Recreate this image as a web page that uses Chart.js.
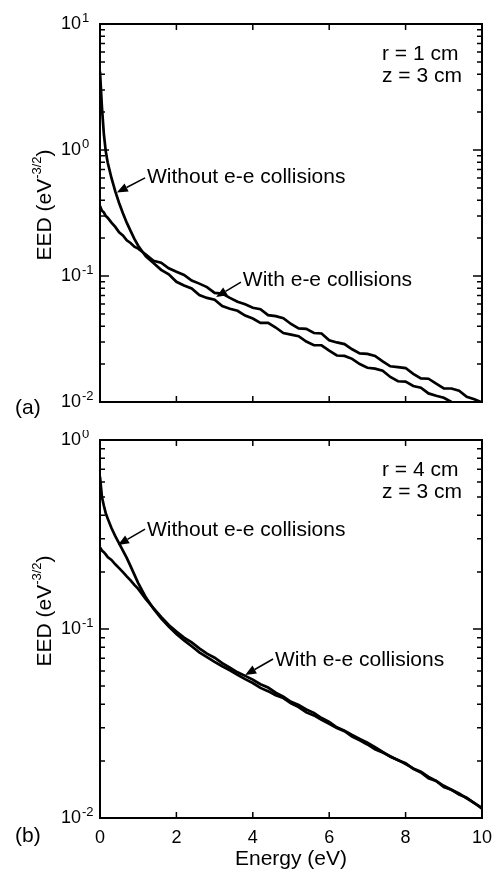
<!DOCTYPE html>
<html>
<head>
<meta charset="utf-8">
<script src="https://cdn.jsdelivr.net/npm/chart.js@4.4.1/dist/chart.umd.min.js"></script>
<style>
  html, body { margin: 0; padding: 0; background: #fff; }
  #wrap { position: relative; width: 495px; height: 869px; overflow: hidden; }
  canvas { position: absolute; left: 0; }
  #chartA { top: 0; }
  #chartB { top: 430px; }
</style>
</head>
<body>
<div id="wrap">
  <canvas id="chartA" width="495" height="430"></canvas>
  <canvas id="chartB" width="495" height="439"></canvas>
</div>
<script>
// 1. Daten
const energy = [0, 0.05, 0.1, 0.15, 0.2, 0.3, 0.4, 0.5, 0.6, 0.7, 0.8, 0.9, 1.0,
  1.2, 1.4, 1.6, 1.8, 2.0, 2.2, 2.4, 2.6, 2.8, 3.0, 3.2, 3.4, 3.6, 3.8, 4.0,
  4.2, 4.4, 4.6, 4.8, 5.0, 5.2, 5.4, 5.6, 5.8, 6.0, 6.2, 6.4, 6.6, 6.8, 7.0,
  7.2, 7.4, 7.6, 7.8, 8.0, 8.2, 8.4, 8.6, 8.8, 9.0, 9.2, 9.4, 9.6, 9.8, 10.0];

// (a) r = 1 cm
const withoutA = [4.2, 2.2, 1.35, 0.98, 0.8, 0.6, 0.47, 0.38, 0.315, 0.265, 0.228, 0.197, 0.174,
  0.143, 0.127, 0.112, 0.103, 0.09, 0.084, 0.0796, 0.0706, 0.067, 0.0649, 0.0578, 0.055, 0.053, 0.0485, 0.046,
  0.0425, 0.0425, 0.039, 0.0353, 0.0343, 0.0333, 0.0302, 0.0282, 0.0282, 0.0256, 0.0234, 0.0232, 0.022, 0.02, 0.0187,
  0.0184, 0.0177, 0.0158, 0.0146, 0.0145, 0.0134, 0.013, 0.0117, 0.0112, 0.0108, 0.01, 0.0094, 0.0089, 0.0084, 0.0079];
const withA = [0.36, 0.33, 0.32, 0.30, 0.29, 0.265, 0.245, 0.222, 0.21, 0.192, 0.183, 0.171, 0.165,
  0.148, 0.132, 0.1275, 0.115, 0.108, 0.102, 0.092, 0.087, 0.0816, 0.0735, 0.0724, 0.067, 0.0624, 0.0596, 0.056,
  0.0545, 0.0489, 0.048, 0.0463, 0.0416, 0.0384, 0.0381, 0.0353, 0.035, 0.0309, 0.0297, 0.0288, 0.0262, 0.0243, 0.0241,
  0.0232, 0.021, 0.0192, 0.0189, 0.0186, 0.0167, 0.0154, 0.0153, 0.014, 0.0128, 0.0128, 0.0123, 0.011, 0.0105, 0.0099];

// (b) r = 4 cm
const withoutB = [0.64, 0.5, 0.45, 0.41, 0.385, 0.342, 0.31, 0.284, 0.26, 0.238, 0.215, 0.194, 0.175,
  0.147, 0.128, 0.114, 0.103, 0.094, 0.087, 0.081, 0.0752, 0.071, 0.067, 0.0635, 0.0605, 0.0572, 0.0543, 0.0518,
  0.0488, 0.0469, 0.0446, 0.0431, 0.0404, 0.0386, 0.0362, 0.0349, 0.0331, 0.0315, 0.0299, 0.0288, 0.027, 0.0258, 0.0245,
  0.0231, 0.0222, 0.0212, 0.0202, 0.0195, 0.0182, 0.0174, 0.0162, 0.0157, 0.0148, 0.0141, 0.0135, 0.0127, 0.012, 0.0112];
const withB = [0.27, 0.26, 0.255, 0.248, 0.24, 0.232, 0.22, 0.21, 0.2, 0.19, 0.181, 0.171, 0.163,
  0.144, 0.129, 0.116, 0.105, 0.097, 0.09, 0.085, 0.079, 0.074, 0.0705, 0.066, 0.0625, 0.059, 0.0565, 0.054,
  0.051, 0.049, 0.046, 0.0439, 0.0412, 0.0396, 0.0375, 0.036, 0.0338, 0.0322, 0.0302, 0.029, 0.0275, 0.0262, 0.025,
  0.0237, 0.0224, 0.0211, 0.0203, 0.0193, 0.0183, 0.0176, 0.0165, 0.0157, 0.0146, 0.0141, 0.0133, 0.0128, 0.012, 0.0113];

const xTicks = [0, 2, 4, 6, 8, 10];
const yTicksA = [0.01, 0.1, 1, 10];
const yTicksB = [0.01, 0.1, 1];

const FONT = '"Liberation Sans", Arial, sans-serif';

// 2. Panels
const panelA = {
  id: 'chartA', without: withoutA, with: withA, yTicks: yTicksA,
  padding: { left: 100, right: 13, top: 24, bottom: 28 },
  tag: '(a)', tagY: 6, titleShift: -8, showX: false,
  params: ['r = 1 cm', 'z = 3 cm'],
  notes: [
    { text: 'Without e-e collisions', at: [1.23, 0.61], from: [1.18, 0.60], to: [0.44, 0.46] },
    { text: 'With e-e collisions', at: [3.74, 0.093], from: [3.69, 0.0895], to: [3.04, 0.068] }
  ]
};
const panelB = {
  id: 'chartB', without: withoutB, with: withB, yTicks: yTicksB,
  padding: { left: 100, right: 13, top: 10, bottom: 51 },
  tag: '(b)', tagY: 18, titleShift: -18, showX: true,
  params: ['r = 4 cm', 'z = 3 cm'],
  notes: [
    { text: 'Without e-e collisions', at: [1.23, 0.334], from: [1.18, 0.338], to: [0.47, 0.278] },
    { text: 'With e-e collisions', at: [4.58, 0.0686], from: [4.53, 0.0694], to: [3.8, 0.0571] }
  ]
};

function arrow(ctx, x1, y1, x2, y2) {
  const ang = Math.atan2(y2 - y1, x2 - x1);
  const len = 11, half = 4.5;
  const bx = x2 - Math.cos(ang) * len, by = y2 - Math.sin(ang) * len;
  ctx.beginPath();
  ctx.moveTo(x1, y1);
  ctx.lineTo(bx, by);
  ctx.stroke();
  ctx.beginPath();
  ctx.moveTo(x2, y2);
  ctx.lineTo(bx - Math.sin(ang) * half, by + Math.cos(ang) * half);
  ctx.lineTo(bx + Math.sin(ang) * half, by - Math.cos(ang) * half);
  ctx.closePath();
  ctx.fill();
}

function framePlugin(panel) {
  return {
    id: 'frame',
    afterDatasetsDraw(chart) {
      const ctx = chart.ctx;
      const a = chart.chartArea;
      const xs = chart.scales.x, ys = chart.scales.y;
      ctx.save();
      ctx.strokeStyle = '#000';
      ctx.fillStyle = '#000';

      // Rahmen
      ctx.lineWidth = 2;
      ctx.strokeRect(a.left, a.top, a.right - a.left, a.bottom - a.top);

      // Ticks nach innen
      ctx.lineWidth = 1.5;
      xTicks.forEach(v => {
        const px = xs.getPixelForValue(v);
        ctx.beginPath();
        ctx.moveTo(px, a.bottom); ctx.lineTo(px, a.bottom - 6);
        ctx.moveTo(px, a.top); ctx.lineTo(px, a.top + 6);
        ctx.stroke();
      });
      const t = panel.yTicks;
      t.forEach((d, i) => {
        const py = ys.getPixelForValue(d);
        ctx.beginPath();
        ctx.moveTo(a.left, py); ctx.lineTo(a.left + 9, py);
        ctx.moveTo(a.right, py); ctx.lineTo(a.right - 9, py);
        ctx.stroke();
        if (i < t.length - 1) {
          for (let m = 2; m <= 9; m++) {
            const pm = ys.getPixelForValue(d * m);
            ctx.beginPath();
            ctx.moveTo(a.left, pm); ctx.lineTo(a.left + 5, pm);
            ctx.moveTo(a.right, pm); ctx.lineTo(a.right - 5, pm);
            ctx.stroke();
          }
        }
        // Beschriftung 10^n
        const exp = String(Math.round(Math.log10(d)));
        ctx.textBaseline = 'middle';
        ctx.font = '18px ' + FONT;
        ctx.textAlign = 'right';
        ctx.fillText('10', a.left - 19, py);
        ctx.font = '13px ' + FONT;
        ctx.textAlign = 'left';
        ctx.fillText(exp, a.left - 18, py - 6);
      });

      // x-Beschriftung nur unten
      if (panel.showX) {
        ctx.font = '18px ' + FONT;
        ctx.textAlign = 'center';
        ctx.textBaseline = 'middle';
        xTicks.forEach(v => ctx.fillText(String(v), xs.getPixelForValue(v), a.bottom + 20));
        ctx.font = '21px ' + FONT;
        ctx.fillText('Energy (eV)', (a.left + a.right) / 2, a.bottom + 41);
      }

      // y-Titel
      ctx.save();
      ctx.translate(45, (a.top + a.bottom) / 2 + panel.titleShift);
      ctx.rotate(-Math.PI / 2);
      ctx.textBaseline = 'middle';
      ctx.textAlign = 'left';
      ctx.font = '21px ' + FONT;
      const w1 = ctx.measureText('EED (eV').width;
      const w3 = ctx.measureText(')').width;
      ctx.font = '13px ' + FONT;
      const w2 = ctx.measureText('-3/2').width;
      let x0 = -(w1 + w2 + w3) / 2;
      ctx.font = '21px ' + FONT;
      ctx.fillText('EED (eV', x0, 0);
      ctx.font = '13px ' + FONT;
      ctx.fillText('-3/2', x0 + w1, -8);
      ctx.font = '21px ' + FONT;
      ctx.fillText(')', x0 + w1 + w2, 0);
      ctx.restore();

      // (a)/(b)
      ctx.font = '21px ' + FONT;
      ctx.textAlign = 'left';
      ctx.textBaseline = 'middle';
      ctx.fillText(panel.tag, 15, a.bottom + panel.tagY);

      // r, z
      ctx.fillText(panel.params[0], a.right - 100, a.top + 30);
      ctx.fillText(panel.params[1], a.right - 100, a.top + 52);

      // Pfeile + Text
      ctx.lineWidth = 1.5;
      panel.notes.forEach(n => {
        ctx.fillText(n.text, xs.getPixelForValue(n.at[0]), ys.getPixelForValue(n.at[1]));
        arrow(ctx,
          xs.getPixelForValue(n.from[0]), ys.getPixelForValue(n.from[1]),
          xs.getPixelForValue(n.to[0]), ys.getPixelForValue(n.to[1]));
      });
      ctx.restore();
    }
  };
}

// 3. Charts
function makeChart(panel) {
  const line = values => ({
    data: energy.map((e, i) => ({ x: e, y: values[i] })),
    borderColor: '#000',
    borderWidth: 2.7,
    pointRadius: 0,
    tension: 0,
    fill: false
  });
  return new Chart(document.getElementById(panel.id), {
    type: 'line',
    data: {
      datasets: [
        Object.assign(line(panel.without), { label: 'Without e-e collisions' }),
        Object.assign(line(panel.with), { label: 'With e-e collisions' })
      ]
    },
    options: {
      responsive: false,
      animation: false,
      devicePixelRatio: 1,
      layout: { padding: panel.padding },
      plugins: { legend: { display: false }, tooltip: { enabled: false } },
      scales: {
        x: { type: 'linear', min: 0, max: 10, display: false },
        y: { type: 'logarithmic', min: panel.yTicks[0], max: panel.yTicks[panel.yTicks.length - 1], display: false }
      }
    },
    plugins: [framePlugin(panel)]
  });
}

makeChart(panelA);
makeChart(panelB);
</script>
</body>
</html>
